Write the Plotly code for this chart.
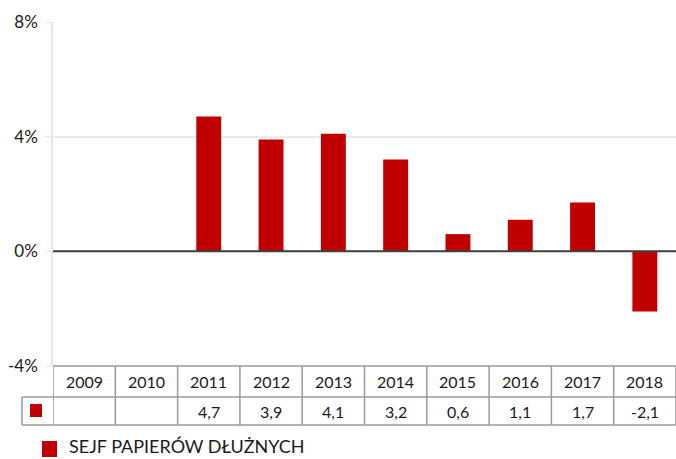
import plotly.graph_objects as go

years = ["2009", "2010", "2011", "2012", "2013", "2014", "2015", "2016", "2017", "2018"]
values = [None, None, 4.7, 3.9, 4.1, 3.2, 0.6, 1.1, 1.7, -2.1]
series_name = "SEJF PAPIERÓW DŁUŻNYCH"
y_ticks = [-4, 0, 4, 8]
y_tick_labels = ["-4%", "0%", "4%", "8%"]

RED = "#c00000"
GRID = "#9a9a9a"
FONT = "Lato, Carlito, 'Liberation Sans', sans-serif"

W, H = 676, 459
ML, MR, MT, MB = 53, 0, 22, 93
plot_h = H - MT - MB
plot_w = W - ML - MR

def py(px):  # pixel offset below plot bottom -> paper y
    return -px / plot_h

def px_x(px):  # absolute pixel x -> paper x
    return (px - ML) / plot_w

fig = go.Figure()
fig.add_trace(go.Bar(
    x=list(range(len(years))), y=values, name=series_name,
    marker=dict(color=RED, line=dict(width=0)), width=0.4,
    showlegend=False,
))

shapes = []
row1_top, row1_bot, row2_bot = 0, py(31), py(59)
shapes.append(dict(type="line", xref="paper", yref="paper", x0=0, x1=1, y0=row1_top, y1=row1_top,
                   line=dict(color=GRID, width=1.5)))
shapes.append(dict(type="line", xref="paper", yref="paper", x0=px_x(22), x1=1, y0=row1_bot, y1=row1_bot,
                   line=dict(color=GRID, width=1.5)))
shapes.append(dict(type="line", xref="paper", yref="paper", x0=px_x(22), x1=1, y0=row2_bot, y1=row2_bot,
                   line=dict(color=GRID, width=1.5)))
for i in range(len(years) + 1):
    shapes.append(dict(type="line", xref="x", yref="paper", x0=i - 0.5, x1=i - 0.5,
                       y0=row1_top, y1=row2_bot, line=dict(color=GRID, width=1.5)))
shapes.append(dict(type="line", xref="paper", yref="paper", x0=px_x(22), x1=px_x(22),
                   y0=row1_bot, y1=row2_bot, line=dict(color=GRID, width=1.5)))
# key square inside table
shapes.append(dict(type="rect", xref="paper", yref="paper", x0=px_x(30), x1=px_x(42),
                   y0=py(38), y1=py(51), fillcolor=RED, line=dict(width=0)))
# legend square
shapes.append(dict(type="rect", xref="paper", yref="paper", x0=px_x(42), x1=px_x(57),
                   y0=py(75), y1=py(91), fillcolor=RED, line=dict(width=0)))
# zero line
shapes.append(dict(type="line", xref="paper", yref="y", x0=0, x1=1, y0=0, y1=0,
                   line=dict(color="#404040", width=2)))

annotations = []
for i, yr in enumerate(years):
    annotations.append(dict(x=i, y=(row1_top + row1_bot) / 2, xref="x", yref="paper", text=yr,
                            showarrow=False, font=dict(size=16, color="#1a1a1a", family=FONT),
                            yanchor="middle", xanchor="center"))
    if values[i] is not None:
        annotations.append(dict(x=i, y=(row1_bot + row2_bot) / 2, xref="x", yref="paper",
                                text=f"{values[i]:.1f}".replace(".", ","), showarrow=False,
                                font=dict(size=16, color="#1a1a1a", family=FONT),
                                yanchor="middle", xanchor="center"))
# legend text
annotations.append(dict(x=px_x(68), y=py(92), xref="paper", yref="paper", text=series_name,
                        showarrow=False, font=dict(size=18, color="#1a1a1a", family=FONT),
                        xanchor="left", yanchor="bottom", borderpad=0))

fig.update_layout(
    width=W, height=H,
    margin=dict(l=ML, r=MR, t=MT, b=MB, autoexpand=False),
    plot_bgcolor="white", paper_bgcolor="white",
    bargap=0.6,
    xaxis=dict(range=[-0.5, len(years) - 0.5], showticklabels=False, showgrid=False,
               zeroline=False, ticks="", fixedrange=True, automargin=False),
    yaxis=dict(range=[-4, 8], tickvals=y_ticks, ticktext=y_tick_labels, automargin=False,
               showgrid=True, gridcolor="#ebebeb", gridwidth=2, zeroline=False,
               showline=True, linecolor="#ece6d8", linewidth=1.5,
               ticks="outside", ticklen=6, tickcolor="#ece6d8", ticklabelstandoff=4,
               tickfont=dict(size=17, color="#1a1a1a", family=FONT)),
    shapes=shapes,
    annotations=annotations,
    showlegend=False,
)

fig.write_html("out.html", config={"displayModeBar": False},
               post_script="document.body.style.margin='0';document.body.style.overflow='hidden';")
